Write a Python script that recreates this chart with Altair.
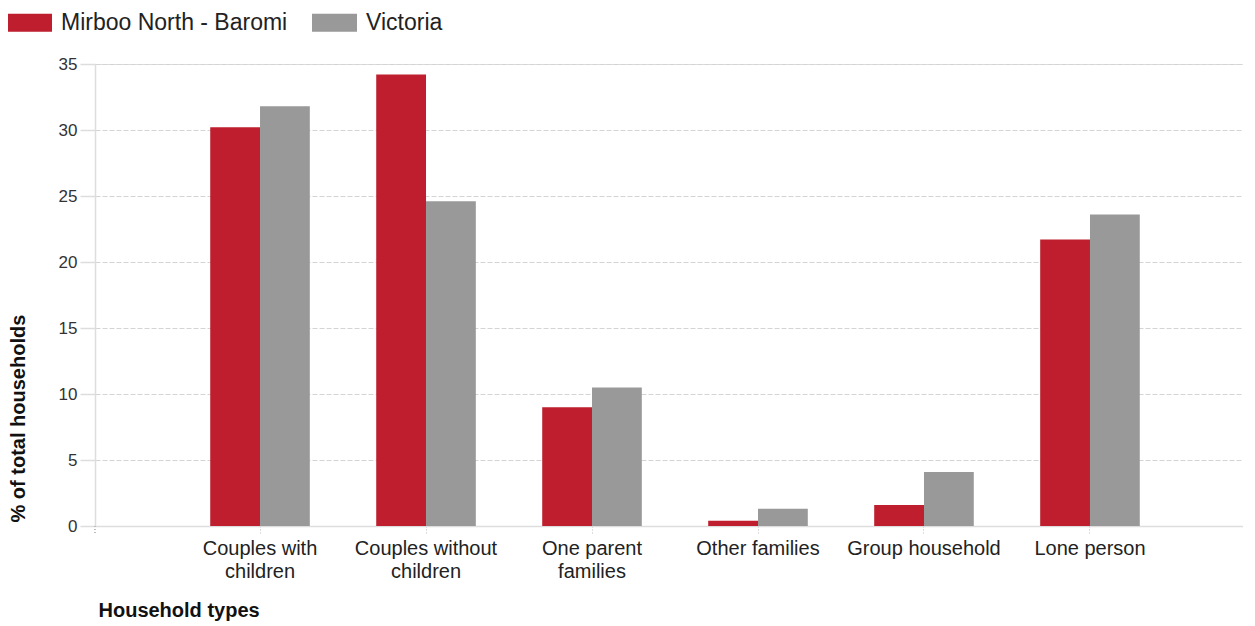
import altair as alt
import pandas as pd

categories = ["Couples with|children", "Couples without|children", "One parent|families",
              "Other families", "Group household", "Lone person"]
series = ["Mirboo North - Baromi", "Victoria"]
mirboo = [30.2, 34.2, 9.0, 0.4, 1.6, 21.7]
victoria = [31.8, 24.6, 10.5, 1.3, 4.1, 23.6]
y_ticks = [0, 5, 10, 15, 20, 25, 30, 35]
colors = ["#BE1E2D", "#999999"]

rows = []
for i, c in enumerate(categories):
    rows.append({"type": c, "series": series[0], "value": mirboo[i]})
    rows.append({"type": c, "series": series[1], "value": victoria[i]})
df = pd.DataFrame(rows)

FONT = "Liberation Sans"

bars = alt.Chart(df).mark_bar().encode(
    x=alt.X(
        "type:N", sort=categories,
        scale=alt.Scale(paddingInner=0.4, paddingOuter=0.658, align=0.5275),
        axis=alt.Axis(
            title="Household types", labelExpr="split(datum.label, '|')",
            labelAngle=0, labelFontSize=20, labelLineHeight=23, labelColor="#222",
            labelBaseline="top", labelPadding=4, labelFont=FONT, labelLimit=300,
            domainColor="#dddddd", domainWidth=1.5,
            tickColor="#bbbbbb", tickDash=[1, 2], tickSize=8, tickWidth=1,
            titleFont=FONT, titleFontSize=20, titleFontWeight="bold", titleColor="#111",
            titleAlign="left", titleX=3, titleY=90, titleBaseline="alphabetic",
            grid=False,
        ),
    ),
    xOffset=alt.XOffset("series:N", sort=series,
                        scale=alt.Scale(paddingInner=0, paddingOuter=0)),
    y=alt.Y(
        "value:Q",
        scale=alt.Scale(domain=[0, 35], nice=False, zero=True),
        axis=alt.Axis(
            title="% of total households", values=y_ticks,
            labelFontSize=17, labelColor="#333", labelFont=FONT, labelPadding=3,
            domainColor="#dddddd", domainWidth=1.5,
            tickColor="#dddddd", tickSize=15, tickWidth=1.5,
            grid=True, gridColor="#d4d4d4", gridDash=[5, 2], gridWidth=1,
            titleFont=FONT, titleFontSize=20, titleFontWeight="bold", titleColor="#111",
            titleAngle=-90, titleAlign="left", titleBaseline="middle",
            titleX=-77, titleY=458,
        ),
    ),
    color=alt.Color(
        "series:N", sort=series,
        scale=alt.Scale(domain=series, range=colors),
        legend=alt.Legend(
            title=None, orient="none", legendX=-88, legendY=-64, direction="horizontal",
            padding=0,
            symbolType="M-1,-0.4H1V0.4H-1Z", symbolSize=2025, symbolStrokeWidth=0,
            symbolOpacity=1, labelFontSize=23, labelColor="#222", labelFont=FONT,
            labelOffset=9, columnPadding=24, labelLimit=400,
        ),
    ),
)

corner_tick = alt.Chart(df).mark_rule(color="#bbbbbb", strokeDash=[1, 2], strokeWidth=1).encode(
    x=alt.value(0), y=alt.value(462), y2=alt.value(470)
)

chart = alt.layer(bars, corner_tick).properties(
    width=1148, height=462,
    autosize=alt.AutoSizeParams(type="none"),
    padding={"left": 87, "top": 56, "right": 0, "bottom": 96},
).configure_view(stroke=None).configure(font=FONT)

chart.save("out.html", embed_options={"renderer": "svg", "actions": False})
